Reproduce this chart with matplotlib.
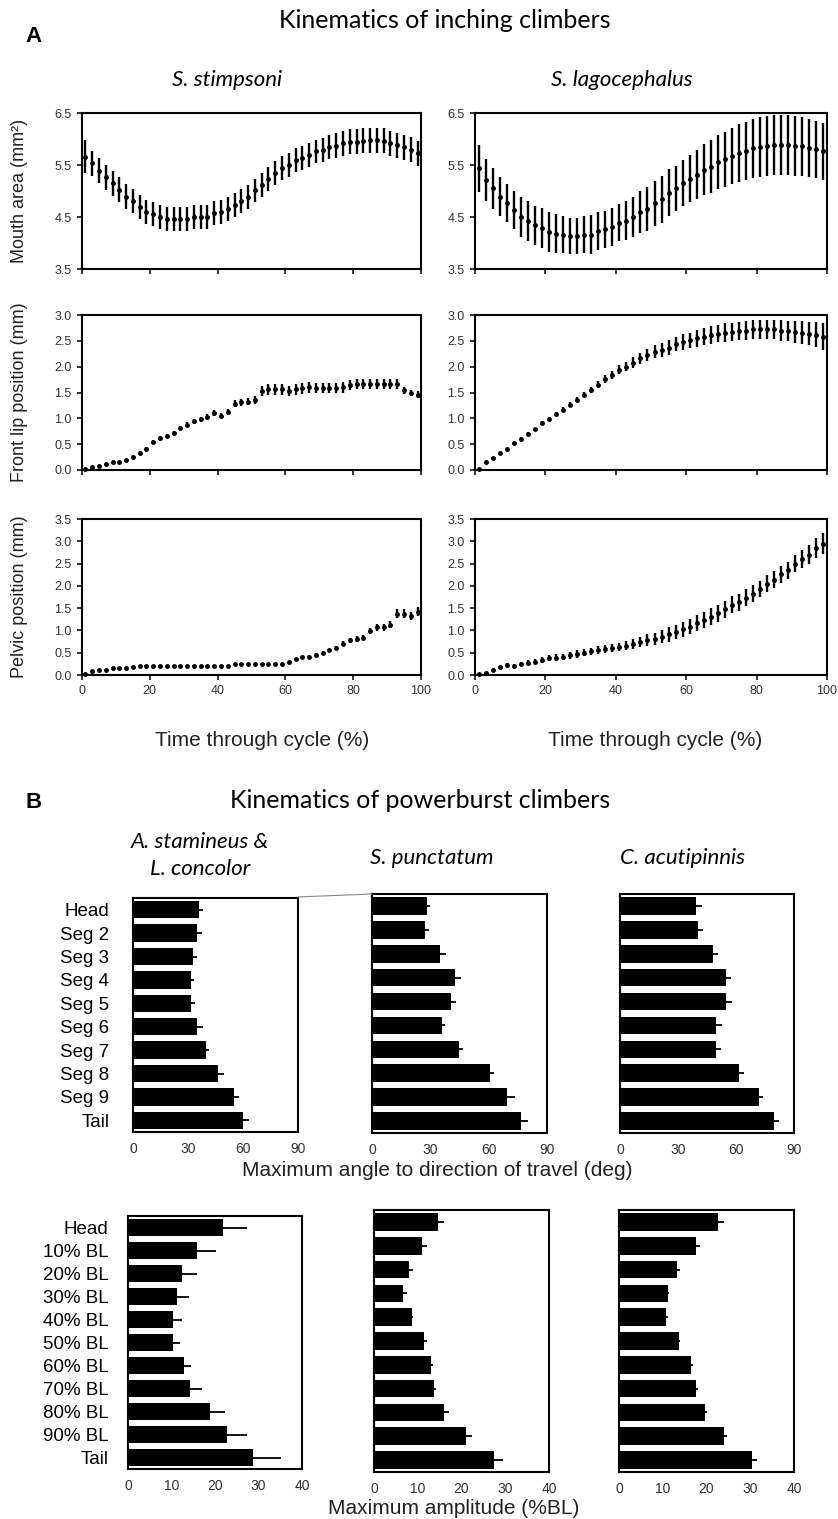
import numpy as np
import matplotlib
matplotlib.use('Agg')
import matplotlib.pyplot as plt
from matplotlib.lines import Line2D

plt.rcParams['font.family'] = ['Liberation Sans', 'DejaVu Sans']

# ---------------- data: panel A (inching climbers) ----------------
time_pct = np.arange(1, 100, 2)   # 50 samples through the cycle

mouth_stim = [5.66, 5.53, 5.39, 5.26, 5.15, 5.02, 4.89, 4.81, 4.70, 4.60,
              4.55, 4.50, 4.47, 4.47, 4.47, 4.47, 4.50, 4.50, 4.50, 4.57,
              4.60, 4.65, 4.73, 4.81, 4.89, 5.01, 5.12, 5.23, 5.34, 5.44,
              5.50, 5.60, 5.63, 5.70, 5.76, 5.79, 5.84, 5.87, 5.92, 5.95,
              5.95, 5.97, 5.98, 5.98, 5.97, 5.92, 5.88, 5.84, 5.79, 5.73]
mouth_stim_sd = [0.32, 0.24, 0.24, 0.24, 0.24, 0.24, 0.24, 0.23, 0.23, 0.23,
                 0.23, 0.23, 0.23, 0.23, 0.23, 0.23, 0.23, 0.23, 0.23, 0.23,
                 0.23, 0.23, 0.23, 0.23, 0.23, 0.23, 0.23, 0.23, 0.23, 0.23,
                 0.23, 0.23, 0.23, 0.23, 0.23, 0.23, 0.23, 0.24, 0.24, 0.24,
                 0.24, 0.24, 0.24, 0.24, 0.24, 0.24, 0.24, 0.24, 0.24, 0.24]

mouth_lago = [5.44, 5.21, 5.05, 4.89, 4.77, 4.63, 4.50, 4.42, 4.34, 4.29,
              4.21, 4.18, 4.16, 4.13, 4.13, 4.16, 4.16, 4.23, 4.26, 4.31,
              4.39, 4.43, 4.50, 4.60, 4.66, 4.76, 4.84, 4.97, 5.05, 5.15,
              5.24, 5.31, 5.41, 5.47, 5.55, 5.61, 5.68, 5.73, 5.77, 5.82,
              5.84, 5.86, 5.88, 5.89, 5.88, 5.86, 5.86, 5.82, 5.80, 5.76]
mouth_lago_sd = [0.45, 0.41, 0.39, 0.37, 0.37, 0.37, 0.38, 0.38, 0.38, 0.38,
                 0.38, 0.37, 0.36, 0.35, 0.35, 0.36, 0.37, 0.36, 0.36, 0.36,
                 0.36, 0.37, 0.38, 0.40, 0.42, 0.44, 0.45, 0.45, 0.44, 0.44,
                 0.45, 0.47, 0.49, 0.51, 0.52, 0.53, 0.54, 0.55, 0.56, 0.57,
                 0.58, 0.58, 0.58, 0.58, 0.58, 0.58, 0.57, 0.56, 0.55, 0.55]

lip_stim = [0.02, 0.05, 0.07, 0.12, 0.15, 0.15, 0.19, 0.26, 0.33, 0.41,
            0.54, 0.61, 0.65, 0.71, 0.81, 0.88, 0.94, 0.98, 1.03, 1.10,
            1.05, 1.13, 1.28, 1.31, 1.32, 1.36, 1.53, 1.56, 1.56, 1.56,
            1.53, 1.56, 1.58, 1.60, 1.59, 1.59, 1.59, 1.59, 1.60, 1.64,
            1.66, 1.66, 1.66, 1.66, 1.66, 1.66, 1.66, 1.54, 1.49, 1.46]
lip_stim_sd = [0.02, 0.02, 0.02, 0.02, 0.02, 0.02, 0.02, 0.03, 0.03, 0.03,
               0.04, 0.04, 0.04, 0.04, 0.04, 0.05, 0.05, 0.05, 0.06, 0.06,
               0.05, 0.06, 0.07, 0.07, 0.07, 0.08, 0.09, 0.10, 0.10, 0.10,
               0.10, 0.10, 0.10, 0.10, 0.10, 0.10, 0.10, 0.10, 0.10, 0.10,
               0.10, 0.10, 0.10, 0.10, 0.10, 0.10, 0.10, 0.07, 0.06, 0.06]

lip_lago = [0.02, 0.15, 0.23, 0.33, 0.41, 0.52, 0.60, 0.70, 0.79, 0.91,
            0.99, 1.09, 1.17, 1.26, 1.36, 1.46, 1.55, 1.65, 1.76, 1.84,
            1.94, 2.00, 2.08, 2.16, 2.23, 2.29, 2.32, 2.37, 2.44, 2.48,
            2.51, 2.55, 2.58, 2.61, 2.64, 2.66, 2.67, 2.69, 2.70, 2.72,
            2.72, 2.72, 2.72, 2.70, 2.69, 2.67, 2.66, 2.64, 2.62, 2.58]
lip_lago_sd = [0.02, 0.02, 0.02, 0.02, 0.02, 0.02, 0.03, 0.03, 0.03, 0.03,
               0.04, 0.04, 0.04, 0.05, 0.05, 0.055, 0.06, 0.07, 0.07, 0.08,
               0.09, 0.09, 0.10, 0.11, 0.12, 0.13, 0.13, 0.14, 0.14, 0.15,
               0.15, 0.16, 0.16, 0.17, 0.17, 0.18, 0.18, 0.18, 0.19, 0.19,
               0.19, 0.19, 0.19, 0.20, 0.20, 0.21, 0.22, 0.23, 0.24, 0.26]

pelvic_stim = [0.02, 0.08, 0.11, 0.11, 0.15, 0.15, 0.15, 0.17, 0.20, 0.20,
               0.20, 0.20, 0.20, 0.20, 0.20, 0.20, 0.20, 0.20, 0.20, 0.20,
               0.20, 0.20, 0.24, 0.24, 0.24, 0.24, 0.24, 0.24, 0.24, 0.24,
               0.29, 0.35, 0.40, 0.41, 0.45, 0.50, 0.55, 0.60, 0.70, 0.78,
               0.81, 0.84, 0.98, 1.07, 1.07, 1.13, 1.37, 1.37, 1.33, 1.42]
pelvic_stim_sd = [0.02, 0.02, 0.02, 0.02, 0.02, 0.02, 0.02, 0.02, 0.02, 0.02,
                  0.02, 0.02, 0.02, 0.02, 0.02, 0.02, 0.02, 0.02, 0.02, 0.02,
                  0.02, 0.02, 0.02, 0.02, 0.02, 0.02, 0.02, 0.02, 0.02, 0.02,
                  0.03, 0.03, 0.03, 0.03, 0.04, 0.04, 0.04, 0.05, 0.06, 0.06,
                  0.06, 0.06, 0.07, 0.08, 0.08, 0.08, 0.10, 0.10, 0.09, 0.10]

pelvic_lago = [0.03, 0.05, 0.11, 0.17, 0.23, 0.21, 0.25, 0.28, 0.30, 0.34,
               0.38, 0.39, 0.41, 0.44, 0.47, 0.50, 0.53, 0.56, 0.58, 0.61,
               0.63, 0.66, 0.70, 0.74, 0.78, 0.81, 0.86, 0.91, 0.97, 1.03,
               1.08, 1.16, 1.23, 1.31, 1.38, 1.48, 1.58, 1.63, 1.73, 1.82,
               1.93, 2.05, 2.14, 2.26, 2.35, 2.50, 2.60, 2.70, 2.85, 2.95]
pelvic_lago_sd = [0.02, 0.02, 0.02, 0.03, 0.03, 0.04, 0.04, 0.05, 0.05, 0.06,
                  0.06, 0.07, 0.07, 0.07, 0.08, 0.08, 0.08, 0.09, 0.09, 0.09,
                  0.09, 0.10, 0.11, 0.12, 0.13, 0.14, 0.15, 0.16, 0.16, 0.17,
                  0.17, 0.18, 0.18, 0.19, 0.19, 0.19, 0.19, 0.19, 0.19, 0.19,
                  0.19, 0.19, 0.19, 0.19, 0.19, 0.20, 0.21, 0.22, 0.23, 0.24]

# ---------------- data: panel B (powerburst climbers) ----------------
seg_labels = ['Head', 'Seg 2', 'Seg 3', 'Seg 4', 'Seg 5', 'Seg 6',
              'Seg 7', 'Seg 8', 'Seg 9', 'Tail']
bl_labels = ['Head', '10% BL', '20% BL', '30% BL', '40% BL', '50% BL',
             '60% BL', '70% BL', '80% BL', '90% BL', 'Tail']

angle_stam = [36.0, 34.7, 32.5, 31.5, 31.5, 35.0, 39.6, 46.5, 55.3, 59.8]
angle_stam_err = [2.0, 3.0, 2.5, 2.0, 2.5, 3.0, 2.0, 3.0, 2.7, 3.6]
angle_punc = [28.1, 27.3, 35.0, 42.7, 40.5, 36.2, 44.9, 60.7, 69.6, 76.5]
angle_punc_err = [1.7, 2.0, 3.0, 2.9, 2.6, 1.5, 2.0, 2.2, 3.9, 3.6]
angle_acut = [39.3, 40.5, 48.3, 54.8, 54.8, 49.5, 49.5, 61.7, 71.9, 79.8]
angle_acut_err = [2.9, 2.2, 2.2, 2.6, 2.9, 3.3, 2.8, 2.6, 2.2, 2.4]

amp_stam = [21.8, 15.9, 12.3, 11.3, 10.4, 10.4, 12.9, 14.3, 18.9, 22.8, 28.8]
amp_stam_err = [5.6, 4.4, 3.5, 2.7, 2.1, 1.6, 1.5, 2.8, 3.4, 4.6, 6.3]
amp_punc = [14.6, 10.9, 8.1, 6.6, 8.6, 11.5, 13.0, 13.6, 16.1, 21.0, 27.4]
amp_punc_err = [1.5, 1.1, 0.9, 0.9, 0.4, 0.5, 0.5, 0.6, 1.1, 1.3, 2.0]
amp_acut = [22.6, 17.6, 13.2, 11.1, 10.7, 13.6, 16.5, 17.6, 19.7, 24.1, 30.5]
amp_acut_err = [1.3, 0.9, 0.8, 0.4, 0.4, 0.3, 0.4, 0.5, 0.5, 0.5, 1.0]

# ---------------- figure ----------------
W, H = 838, 1519
fig = plt.figure(figsize=(W / 100, H / 100), dpi=100)


def box(l, t, r, b):
    # pixel box -> figure fraction
    return [l / W, 1 - b / H, (r - l) / W, (b - t) / H]


TITLE_FONT = 'Lato'
TICK_COLOR = '#333333'
SPECIES_SIZE = 16

# panel A
fig.text(25 / W, 1 - 37 / H, 'A', fontsize=16, fontweight='bold',
         ha='left', va='center')
fig.text(445 / W, 1 - 20 / H, 'Kinematics of inching climbers',
         family=TITLE_FONT, fontsize=18, ha='center', va='center')
fig.text(227 / W, 1 - 80 / H, 'S. stimpsoni', family=TITLE_FONT,
         style='italic', fontsize=SPECIES_SIZE, ha='center', va='center')
fig.text(622 / W, 1 - 80 / H, 'S. lagocephalus', family=TITLE_FONT,
         style='italic', fontsize=SPECIES_SIZE, ha='center', va='center')

cols = [(82, 421), (475, 827)]
rows = [(113, 269), (315, 470), (519, 675)]
series = [
    [(mouth_stim, mouth_stim_sd), (mouth_lago, mouth_lago_sd)],
    [(lip_stim, lip_stim_sd), (lip_lago, lip_lago_sd)],
    [(pelvic_stim, pelvic_stim_sd), (pelvic_lago, pelvic_lago_sd)],
]
ylims = [(3.5, 6.5), (0.0, 3.0), (0.0, 3.5)]
yticks = [[3.5, 4.5, 5.5, 6.5],
          [0.0, 0.5, 1.0, 1.5, 2.0, 2.5, 3.0],
          [0.0, 0.5, 1.0, 1.5, 2.0, 2.5, 3.0, 3.5]]
ylabels = ['Mouth area (mm²)', 'Front lip position (mm)', 'Pelvic position (mm)']

for r, (top, bot) in enumerate(rows):
    for c, (lft, rgt) in enumerate(cols):
        ax = fig.add_axes(box(lft, top, rgt, bot))
        vals, sd = series[r][c]
        ax.errorbar(time_pct, vals, yerr=sd, fmt='o', ms=2.5, color='black',
                    ecolor='black', elinewidth=1.7, capsize=0, clip_on=False)
        ax.set_xlim(0, 100)
        ax.set_ylim(*ylims[r])
        ax.set_yticks(yticks[r])
        ax.set_yticklabels(['%.1f' % v for v in yticks[r]])
        ax.set_xticks([0, 20, 40, 60, 80, 100])
        if r < 2:
            ax.set_xticklabels([])
        for sp in ax.spines.values():
            sp.set_linewidth(1.5)
        ax.tick_params(direction='out', length=3.5, width=1.1, labelsize=9,
                       labelcolor=TICK_COLOR, pad=4)
    fig.text(20 / W, 1 - (top + bot) / 2 / H, ylabels[r], rotation=90,
             fontsize=13, ha='center', va='center', color='#222222')

fig.text(262 / W, 1 - 741 / H, 'Time through cycle (%)', fontsize=15,
         ha='center', va='center', color='#222222')
fig.text(655 / W, 1 - 741 / H, 'Time through cycle (%)', fontsize=15,
         ha='center', va='center', color='#222222')

# panel B
fig.text(25 / W, 1 - 802 / H, 'B', fontsize=16, fontweight='bold',
         ha='left', va='center')
fig.text(420 / W, 1 - 800 / H, 'Kinematics of powerburst climbers',
         family=TITLE_FONT, fontsize=18, ha='center', va='center')
fig.text(200 / W, 1 - 842 / H, 'A. stamineus &', family=TITLE_FONT,
         style='italic', fontsize=SPECIES_SIZE, ha='center', va='center')
fig.text(200 / W, 1 - 869 / H, 'L. concolor', family=TITLE_FONT,
         style='italic', fontsize=SPECIES_SIZE, ha='center', va='center')
fig.text(432 / W, 1 - 858 / H, 'S. punctatum', family=TITLE_FONT,
         style='italic', fontsize=SPECIES_SIZE, ha='center', va='center')
fig.text(682 / W, 1 - 858 / H, 'C. acutipinnis', family=TITLE_FONT,
         style='italic', fontsize=SPECIES_SIZE, ha='center', va='center')

bar_sets = [
    # (pixel boxes, data, labels, x max, x ticks, label pad)
    ([(133, 898, 298, 1132), (372, 894, 547, 1133), (620, 894, 794, 1133)],
     [(angle_stam, angle_stam_err), (angle_punc, angle_punc_err),
      (angle_acut, angle_acut_err)],
     seg_labels, 90, [0, 30, 60, 90], 17),
    ([(128, 1216, 302, 1469), (374, 1210, 549, 1472), (619, 1210, 794, 1472)],
     [(amp_stam, amp_stam_err), (amp_punc, amp_punc_err),
      (amp_acut, amp_acut_err)],
     bl_labels, 40, [0, 10, 20, 30, 40], 14),
]

for boxes, data, labels, xmax, xt, ypad in bar_sets:
    for k, (b, (vals, err)) in enumerate(zip(boxes, data)):
        ax = fig.add_axes(box(*b))
        pos = np.arange(len(labels))
        ax.barh(pos, vals, height=0.74, color='black', xerr=err,
                error_kw=dict(ecolor='black', elinewidth=1.3, capsize=0))
        ax.set_xlim(0, xmax)
        ax.set_ylim(len(labels) - 0.5, -0.5)
        ax.set_xticks(xt)
        ax.set_yticks(pos)
        if k == 0:
            ax.set_yticklabels(labels, fontsize=13.5)
        else:
            ax.set_yticklabels([])
        for sp in ax.spines.values():
            sp.set_linewidth(1.5)
        ax.tick_params(axis='x', length=0, labelsize=10, labelcolor=TICK_COLOR,
                       pad=7)
        ax.tick_params(axis='y', length=0, pad=ypad)

fig.text(437 / W, 1 - 1170 / H, 'Maximum angle to direction of travel (deg)',
         fontsize=15, ha='center', va='center', color='#222222')
fig.text(454 / W, 1 - 1508 / H, 'Maximum amplitude (%BL)',
         fontsize=15, ha='center', va='center', color='#222222')

# thin grey stroke joining the first two top frames in the original
fig.add_artist(Line2D([297 / W, 372 / W], [1 - 897 / H, 1 - 894 / H],
                      transform=fig.transFigure, color='#888888', lw=0.8))

fig.savefig('out.png', dpi=100)
